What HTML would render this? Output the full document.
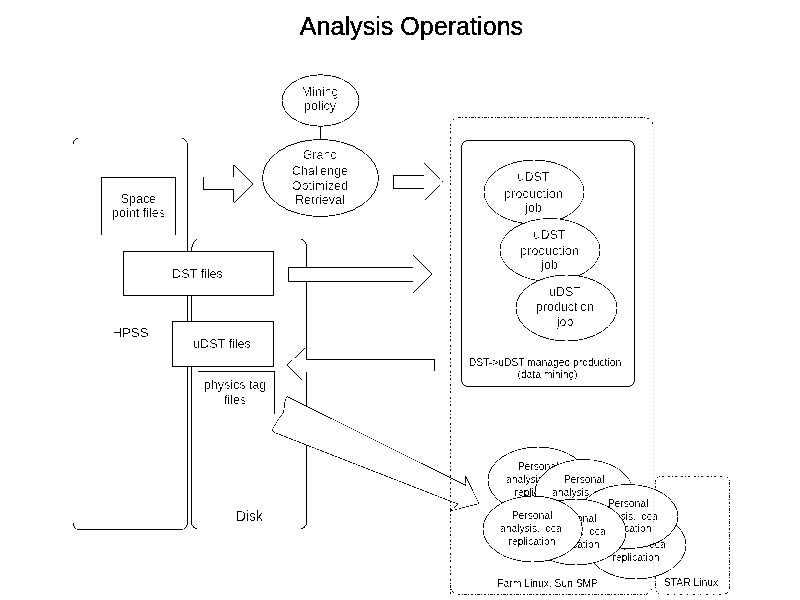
<!DOCTYPE html>
<html><head><meta charset="utf-8">
<style>
html,body{margin:0;padding:0;background:#fff;width:800px;height:600px;overflow:hidden}
svg{display:block;position:absolute;left:0;top:0}
text{font-family:"Liberation Sans",sans-serif;fill:#151515;stroke:none}
.t{font-size:12.5px;text-anchor:middle;fill:#444}
.s{font-size:10.3px;text-anchor:middle;fill:#181818}
</style></head><body>
<svg width="800" height="600" viewBox="0 0 800 600">
<defs><filter id="th" x="0" y="0" width="800" height="600" filterUnits="userSpaceOnUse" color-interpolation-filters="sRGB">
<feComponentTransfer><feFuncR type="discrete" tableValues="0 1"/><feFuncG type="discrete" tableValues="0 1"/><feFuncB type="discrete" tableValues="0 1"/></feComponentTransfer>
</filter></defs>
<g filter="url(#th)">
<rect x="0" y="0" width="800" height="600" fill="#fff"/>
<g fill="none" stroke="#000" stroke-width="1">
<text x="411.5" y="34.5" style="font-size:25px;text-anchor:middle;stroke:#000;stroke-width:0.4px;letter-spacing:0.05px">Analysis Operations</text>

<!-- mining policy -->
<ellipse cx="320.5" cy="100.5" rx="38.5" ry="25.7" stroke-width="0.95"/>
<line x1="320.5" y1="126" x2="320.5" y2="139"/>
<!-- grand challenge -->
<ellipse cx="320.5" cy="178" rx="58" ry="38.5" stroke-width="0.95"/>
<text class="t" x="320" y="96">Mining</text>
<text class="t" x="320" y="110">policy</text>
<text class="t" x="320" y="159">Grand</text>
<text class="t" x="320" y="175">Challenge</text>
<text class="t" x="320" y="190">Optimized</text>
<text class="t" x="320" y="204">Retrieval</text>

<!-- grand challenge arrows -->
<path d="M203.5,177 L203.5,189.5 L233.5,189.5 L233.5,202.5"/><path d="M233.5,177 L233.5,164.5"/><path stroke-width="0.85" d="M234,203 L253,184 L234,165"/>
<path d="M424,175.5 L393.5,175.5 L393.5,188.5 L424,188.5"/>
<path stroke-width="0.85" d="M424,163 L443,181.5 L425,200"/>

<!-- HPSS container partial -->
<path d="M73.5,144 Q73.5,138.5 78.5,138.5"/>
<path d="M181.5,138.5 Q187.5,138.5 187.5,146 L187.5,521.5 Q187.5,529.5 180.5,529.5 L79,529.5 Q74,529.5 73,523"/>

<!-- space pointfiles -->
<path d="M101.5,235 L101.5,177.5 L175.5,177.5 L175.5,235"/>
<text class="t" x="138.5" y="203">Space</text>
<text class="t" x="138.5" y="217">point files</text>

<!-- Disk container -->
<path d="M191.5,251 L191.5,521.5 Q191.5,528.5 197.5,528.5"/>
<path d="M197.5,238.5 Q191.5,243 191.5,251"/>
<path d="M300.5,238.5 Q306.5,241 306.5,247.5 L306.5,521.5 Q306.5,528.5 300.5,528.5"/>
<text style="font-size:13.8px;fill:#444" x="236" y="520.6">Disk</text>
<text style="font-size:13.3px;fill:#444" x="112.3" y="337">HPSS</text>

<!-- DST files box -->
<rect x="123.5" y="251.5" width="150" height="43.5" fill="#fff"/>
<text class="t" x="197.5" y="277.5">DST files</text>
<!-- DST arrow -->
<rect x="288.5" y="267.5" width="125" height="14" fill="#fff" stroke="none"/>
<path d="M413.5,267.5 L288.5,267.5 L288.5,281.5 L413.5,281.5"/>
<path stroke-width="0.9" d="M413,255 L432,274 L413,293"/>

<!-- uDST files box -->
<rect x="172.5" y="321.5" width="101" height="44.5" fill="#fff"/>
<text class="t" x="222" y="348">uDST files</text>
<!-- physics tag box -->
<path d="M198,371.5 L274.5,371.5 L274.5,414"/>
<text class="t" x="235" y="389">physics tag</text>
<text class="t" x="235" y="404">files</text>

<!-- left arrow to uDST -->
<rect x="306" y="359.5" width="128" height="12" fill="#fff" stroke="none"/>
<path d="M306.5,359.5 L434.5,359.5 L434.5,371.5"/>
<path stroke-width="0.8" d="M306.5,347 L287,365 L306.5,384"/>

<!-- big arrow -->
<path stroke-width="0.8" d="M287,396.5 L466,485.5 L465.5,476 L479,503.5 L460,508.5 L450,511 L458.5,504 L450,501 L274.5,432.5 L272,430 L278,420 L283.5,412.5 L285,401 Z" fill="#fff"/>

<!-- outer dotted container -->
<path d="M450.5,594.5 L450.5,127 Q450.5,117.5 460,117.5 L645,117.5 Q651,118 653,124" stroke-dasharray="2.5 1.5 1 1.5"/>
<path d="M450.5,585 Q450.5,594.5 460,594.5 L645,594.5 Q650,594 652,589" stroke-dasharray="2.5 1.5 1 1.5"/>

<!-- inner solid rect -->
<rect x="461.5" y="140.5" width="173" height="246" rx="7" ry="7"/>
<text class="s" x="545" y="366">DST-&gt;uDST managed production</text>
<text class="s" x="547.5" y="378">(data mining)</text>

<!-- uDST ellipses -->
<ellipse cx="534" cy="192" rx="50" ry="32" fill="#fff" stroke-width="0.85"/>
<ellipse cx="550" cy="250" rx="50" ry="31.5" fill="#fff" stroke-width="0.85"/>
<ellipse cx="566.5" cy="308" rx="50.5" ry="33" fill="#fff" stroke-width="0.85"/>
<text class="t" x="533.5" y="181">uDST</text>
<text class="t" x="533.5" y="198">production</text>
<text class="t" x="533.5" y="212">job</text>
<text class="t" x="549.5" y="239">uDST</text>
<text class="t" x="549.5" y="255">production</text>
<text class="t" x="549.5" y="269">job</text>
<text class="t" x="565" y="296">uDST</text>
<text class="t" x="565" y="311">production</text>
<text class="t" x="565" y="326">job</text>

<!-- STAR linux box -->
<rect x="655.5" y="476" width="74" height="118" rx="6" ry="6" stroke-dasharray="2.5 1.5 1 1.5"/>
<text class="s" x="691" y="586">STAR Linux</text>
<text class="s" x="547.7" y="587">Farm Linux, Sun SMP</text>

<!-- personal ellipses -->
<g fill="#fff">
<ellipse cx="538" cy="480" rx="50" ry="33" stroke-width="0.85"/>
<text class="s" x="538" y="470">Personal</text><text class="s" x="538" y="483">analysis, local</text><text class="s" x="538" y="495.5">replication</text>
<ellipse cx="584" cy="492.5" rx="49" ry="33" stroke-width="0.85"/>
<text class="s" x="584" y="482.5">Personal</text><text class="s" x="584" y="495.5">analysis, local</text><text class="s" x="584" y="508.0">replication</text>
<ellipse cx="636" cy="545" rx="50" ry="34" stroke-width="0.85"/>
<text class="s" x="636" y="535">Personal</text><text class="s" x="636" y="548">analysis, local</text><text class="s" x="636" y="560.5">replication</text>
<ellipse cx="628" cy="516.5" rx="50" ry="32" stroke-width="0.85"/>
<text class="s" x="628" y="506.5">Personal</text><text class="s" x="628" y="519.5">analysis, local</text><text class="s" x="628" y="532.0">replication</text>
<ellipse cx="576" cy="532" rx="50" ry="33" stroke-width="0.85"/>
<text class="s" x="576" y="522">Personal</text><text class="s" x="576" y="535">analysis, local</text><text class="s" x="576" y="547.5">replication</text>
<ellipse cx="532.7" cy="529" rx="49.7" ry="33" stroke-width="0.85"/>
<text class="s" x="532" y="519">Personal</text><text class="s" x="532" y="532">analysis, local</text><text class="s" x="532" y="544.5">replication</text>
</g>
</g>
</g>
<line x1="653.5" y1="125" x2="653.5" y2="588" stroke="#e6e6e6" stroke-width="1" stroke-dasharray="2 2"/>
</svg>
</body></html>
